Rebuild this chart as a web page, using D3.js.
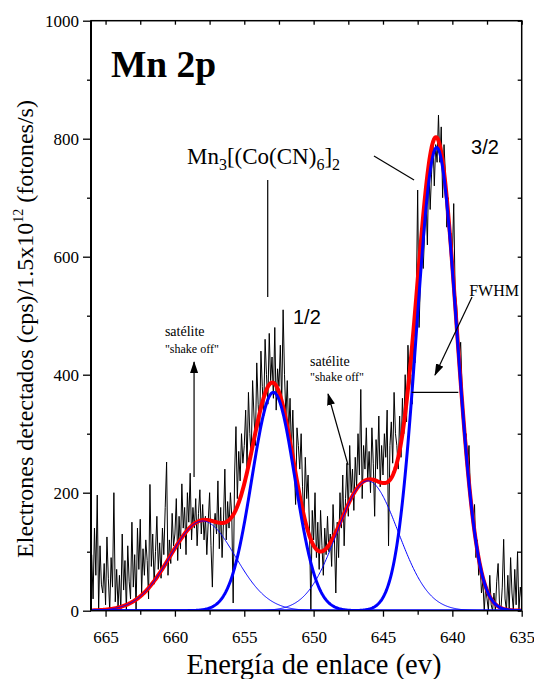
<!DOCTYPE html>
<html><head><meta charset="utf-8">
<script src="https://cdn.jsdelivr.net/npm/d3@7"></script>
<style>body{margin:0;background:#fff}svg{display:block}</style>
</head><body>
<svg id="chart" width="534" height="679"></svg>
<script>
// ---------- data ----------
const energyStart = 666.0;   // eV, first channel
const energyStep = 0.1;      // eV per channel (decreasing energy)
const counts = [
  95, 20, 140, 60, 196, 0, 110, 45, 30, 80,
  10, 125, 55, 0, 90, 40, 200, 15, 70, 5,
  60, 0, 130, 35, 85, 0, 110, 50, 20, 150,
  40, 95, 0, 140, 70, 155, 30, 105, 60, 120,
  85, 20, 214, 75, 130, 45, 100, 160, 70, 115,
  55, 140, 95, 175, 252, 60, 120, 80, 165, 110,
  130, 190, 85, 160, 105, 215, 140, 175, 95, 200,
  150, 233, 120, 175, 140, 190, 110, 165, 205, 130,
  180, 120, 160, 95, 150, 200, 110, 40, 140, 165,
  130, 220, 105, 175, 90, 150, 240, 120, 185, 140,
  200, 160, 13, 230, 312, 190, 270, 220, 300, 250,
  280, 340, 240, 370, 300, 260, 390, 330, 280, 420,
  350, 300, 440, 380, 330, 460, 400, 350, 470, 390,
  430, 360, 480, 340, 410, 380, 450, 350, 510, 400,
  330, 390, 300, 360, 270, 340, 250, 180, 310, 280,
  240, 300, 210, 150, 260, 190, 230, 140, 0, 170,
  120, 200, 90, 150, 70, 170, 110, 60, 140, 95,
  160, 100, 130, 75, 180, 120, 30, 150, 90, 200,
  140, 230, 110, 190, 250, 160, 280, 200, 240, 170,
  260, 210, 300, 230, 375, 190, 280, 240, 310, 220,
  270, 200, 310, 250, 160, 290, 240, 330, 210, 280,
  230, 300, 260, 340, 110, 280, 320, 250, 370, 300,
  280, 240, 330, 260, 360, 300, 400, 320, 450, 380,
  400, 350, 460, 420, 520, 713, 480, 560, 620, 580,
  640, 700, 620, 760, 680, 740, 800, 720, 790, 760,
  840, 760, 820, 700, 790, 740, 650, 700, 620, 640,
  600, 690, 540, 520, 480, 430, 455, 380, 330, 300,
  300, 240, 280, 200, 170, 150, 180, 90, 120, 60,
  80, 30, 50, 0, 40, 20, 0, 60, 10, 0,
  30, 0, 50, 80, 10, 0, 40, 121, 20, 0,
  60, 0, 90, 30, 0, 70, 10, 100, 0, 40,
  20
];

// Gaussian fit components (satélite, 2p1/2, satélite, 2p3/2)
const peakCenters = [658.0, 652.9, 646.1, 641.13];
const peakHeights = [152, 370, 220, 785];
const peakSigmas  = [2.35, 1.55, 2.2, 1.45];
const peakThick   = [false, true, false, true];

const xMajorTicks = [665, 660, 655, 650, 645, 640, 635];
const xMinorTicks = [662.5, 657.5, 652.5, 647.5, 642.5, 637.5];
const yMajorTicks = [0, 200, 400, 600, 800, 1000];
const yMinorTicks = [100, 300, 500, 700, 900];

const xDomain = [666.05, 635];
const yDomain = [0, 1000];

// ---------- setup ----------
const serif = "'Liberation Serif','Times New Roman',Times,serif";
const sans = "'Liberation Sans',Arial,Helvetica,sans-serif";
const svg = d3.select('#chart');
const L = 91, R = 521.7, T = 20.7, B = 610.7;
const x = d3.scaleLinear().domain(xDomain).range([L, R]);
const y = d3.scaleLinear().domain(yDomain).range([B, T]);

svg.append('defs').append('clipPath').attr('id', 'plotclip')
  .append('rect').attr('x', L).attr('y', T - 2).attr('width', R - L).attr('height', B - T + 2);

const marker = svg.select('defs').append('marker')
  .attr('id', 'arrow').attr('markerUnits', 'userSpaceOnUse')
  .attr('viewBox', '0 0 12 8').attr('refX', 11).attr('refY', 4)
  .attr('markerWidth', 12).attr('markerHeight', 8).attr('orient', 'auto');
marker.append('path').attr('d', 'M0,0 L12,4 L0,8 Z').attr('fill', '#000');

const plot = svg.append('g').attr('clip-path', 'url(#plotclip)');

// spectrum
const spectrum = counts.map((v, i) => ({ e: energyStart - i * energyStep, v }));
plot.append('path').datum(spectrum)
  .attr('fill', 'none').attr('stroke', '#000').attr('stroke-width', 1)
  .attr('d', d3.line().x(d => x(d.e)).y(d => y(d.v)));

// model curves
const grid = d3.range(xDomain[0], xDomain[1] - 0.001, -0.05);
const gauss = (e, k) => peakHeights[k] * Math.exp(-((e - peakCenters[k]) ** 2) / (2 * peakSigmas[k] ** 2));
const lineGen = d3.line().x(d => x(d[0])).y(d => y(d[1])).curve(d3.curveLinear);

const total = grid.map(e => [e, d3.sum(peakCenters, (c, k) => gauss(e, k))]);
plot.append('path').datum(total)
  .attr('fill', 'none').attr('stroke', '#ff0000').attr('stroke-width', 4)
  .attr('stroke-linejoin', 'round').attr('d', lineGen);

peakCenters.forEach((c, k) => {
  const comp = grid.map(e => [e, gauss(e, k)]);
  plot.append('path').datum(comp)
    .attr('fill', 'none').attr('stroke', '#0000ff')
    .attr('stroke-width', peakThick[k] ? 3 : 1)
    .attr('d', lineGen);
});

// ---------- axes ----------
function styleAxis(g) {
  g.select('.domain').remove();
  g.attr('font-family', serif).attr('font-size', 17);
  g.selectAll('line').attr('stroke', '#000').attr('stroke-width', 1.3);
  g.selectAll('text').attr('fill', '#000');
}
svg.append('g').attr('transform', `translate(0,${B})`)
  .call(d3.axisBottom(x).tickValues(xMajorTicks).tickSize(6).tickPadding(14).tickFormat(d3.format('d')))
  .call(styleAxis);
svg.append('g').attr('transform', `translate(0,${B})`)
  .call(d3.axisBottom(x).tickValues(xMinorTicks).tickSize(4).tickFormat(''))
  .call(styleAxis);
svg.append('g').attr('transform', `translate(0,${T})`)
  .call(d3.axisBottom(x).tickValues(xMajorTicks.concat(xMinorTicks)).tickSize(4).tickFormat(''))
  .call(styleAxis);
svg.append('g').attr('transform', `translate(${L},0)`)
  .call(d3.axisLeft(y).tickValues(yMajorTicks).tickSize(8).tickPadding(4).tickFormat(d3.format('d')))
  .call(styleAxis);
svg.append('g').attr('transform', `translate(${L},0)`)
  .call(d3.axisLeft(y).tickValues(yMinorTicks).tickSize(4).tickFormat(''))
  .call(styleAxis);
svg.append('g').attr('transform', `translate(${R},0)`)
  .call(d3.axisRight(y).tickValues(yMajorTicks.concat(yMinorTicks)).tickSize(-4).tickFormat(''))
  .call(styleAxis);

svg.append('rect').attr('x', L).attr('y', T).attr('width', R - L).attr('height', B - T)
  .attr('fill', 'none').attr('stroke', '#000').attr('stroke-width', 1.5);
svg.append('line').attr('x1', L).attr('x2', L).attr('y1', T).attr('y2', B)
  .attr('stroke', '#000').attr('stroke-width', 2);

// ---------- axis titles ----------
svg.append('text').attr('x', 314).attr('y', 674).attr('text-anchor', 'middle')
  .attr('font-family', serif).attr('font-size', 28.5).attr('fill', '#000')
  .text('Energía de enlace (ev)');

const yl = svg.append('text').attr('transform', 'translate(33,329) rotate(-90)')
  .attr('text-anchor', 'middle').attr('font-family', serif).attr('font-size', 24).attr('fill', '#000');
yl.append('tspan').text('Electrones detectados (cps)/1.5x10');
yl.append('tspan').attr('font-size', 14).attr('dy', -10).text('12');
yl.append('tspan').attr('dy', 10).text(' (fotones/s)');

// ---------- annotations (data coordinates) ----------
const ann = svg.append('g').attr('fill', '#000');
ann.append('text').attr('x', x(664.61)).attr('y', y(904.6))
  .attr('font-family', serif).attr('font-weight', 'bold').attr('font-size', 37.5).text('Mn 2p');

const f = ann.append('text').attr('x', x(659.13)).attr('y', y(757))
  .attr('font-family', serif).attr('font-size', 23);
f.append('tspan').text('Mn');
f.append('tspan').attr('font-size', 16).attr('dy', 6).text('3');
f.append('tspan').attr('dy', -6).text('[(Co(CN)');
f.append('tspan').attr('font-size', 16).attr('dy', 6).text('6');
f.append('tspan').attr('dy', -6).text(']');
f.append('tspan').attr('font-size', 16).attr('dy', 6).text('2');

ann.append('text').attr('x', x(638.65)).attr('y', y(773.4))
  .attr('font-family', sans).attr('font-size', 20).text('3/2');
ann.append('text').attr('x', x(651.49)).attr('y', y(486))
  .attr('font-family', sans).attr('font-size', 20).text('1/2');
ann.append('text').attr('x', x(638.79)).attr('y', y(533.4))
  .attr('font-family', serif).attr('font-size', 16).text('FWHM');

ann.append('text').attr('x', x(660.72)).attr('y', y(465.6))
  .attr('font-family', serif).attr('font-size', 14).text('satélite');
ann.append('text').attr('x', x(660.72)).attr('y', y(436.8))
  .attr('font-family', serif).attr('font-size', 12).text('"shake off"');
ann.append('text').attr('x', x(650.26)).attr('y', y(413.9))
  .attr('font-family', serif).attr('font-size', 14).text('satélite');
ann.append('text').attr('x', x(650.26)).attr('y', y(388.5))
  .attr('font-family', serif).attr('font-size', 12).text('"shake off"');

const segs = [
  { a: [653.31, 730], b: [653.31, 531.7], arrow: false },
  { a: [645.65, 770.7], b: [642.76, 730], arrow: false },
  { a: [642.93, 370], b: [639.57, 370], arrow: false },
  { a: [658.62, 226.6], b: [658.62, 421.5], arrow: true },
  { a: [647.52, 247], b: [648.96, 367.3], arrow: true },
  { a: [638.58, 531.7], b: [641.25, 399.5], arrow: true }
];
segs.forEach(s => {
  const l = svg.append('line')
    .attr('x1', x(s.a[0])).attr('y1', y(s.a[1]))
    .attr('x2', x(s.b[0])).attr('y2', y(s.b[1]))
    .attr('stroke', '#000').attr('stroke-width', 1.2);
  if (s.arrow) l.attr('marker-end', 'url(#arrow)');
});
</script>
</body></html>
